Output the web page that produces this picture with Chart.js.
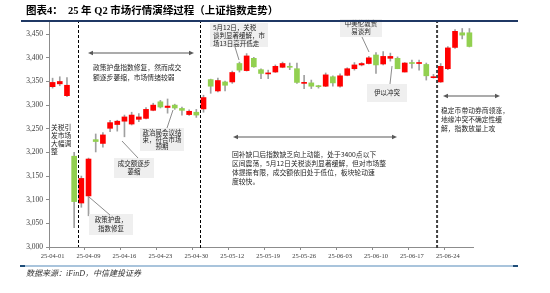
<!DOCTYPE html>
<html><head><meta charset="utf-8">
<script src="https://cdn.jsdelivr.net/npm/chart.js@4.4.1/dist/chart.umd.min.js"></script>
<style>
html,body{margin:0;padding:0;background:#fff;}
#wrap{position:relative;width:550px;height:293px;overflow:hidden;background:#fff;}
canvas{position:absolute;left:0;top:0;}
#title{position:absolute;left:26px;top:4px;font-weight:bold;font-size:10.5px;font-family:"Liberation Serif","Noto Sans CJK SC";color:#000;white-space:nowrap;line-height:13px;}
#tline{position:absolute;left:21px;top:20px;width:497px;height:2px;background:#1F3864;}
#bline{position:absolute;left:20px;top:265px;width:498px;height:2px;background:#A9C4DC;}
#bl1{position:absolute;left:20px;top:265px;width:5px;height:2px;background:#1F4E79;}
#bl2{position:absolute;left:513px;top:265px;width:5px;height:2px;background:#1F4E79;}
#src{position:absolute;left:26px;top:268px;font-style:italic;font-size:8px;font-family:"Liberation Serif","Noto Sans CJK SC";color:#333;white-space:nowrap;line-height:11px;}
</style></head>
<body><div id="wrap"><canvas id="c" width="550" height="293"></canvas>
<div id="title">图表4：&nbsp; 25 年 Q2 市场行情演绎过程（上证指数走势）</div>
<div id="tline"></div>
<div id="bline"></div><div id="bl1"></div><div id="bl2"></div>
<div id="src">数据来源：iFinD，中信建投证券</div></div>
<script>
const dates = ["25-04-01","25-04-02","25-04-03","25-04-07","25-04-08","25-04-09","25-04-10","25-04-11","25-04-14","25-04-15","25-04-16","25-04-17","25-04-18","25-04-21","25-04-22","25-04-23","25-04-24","25-04-25","25-04-28","25-04-29","25-04-30","25-05-06","25-05-07","25-05-08","25-05-09","25-05-12","25-05-13","25-05-14","25-05-15","25-05-16","25-05-19","25-05-20","25-05-21","25-05-22","25-05-23","25-05-26","25-05-27","25-05-28","25-05-29","25-05-30","25-06-03","25-06-04","25-06-05","25-06-06","25-06-09","25-06-10","25-06-11","25-06-12","25-06-13","25-06-16","25-06-17","25-06-18","25-06-19","25-06-20","25-06-23","25-06-24","25-06-25","25-06-26","25-06-27"];
const openV  = [3339,3345,3320,3192,3093,3108,3227,3219,3251,3259,3266,3260,3270,3272,3289,3307,3295,3300,3293,3280,3285,3292,3354,3330,3349,3349,3388,3373,3399,3375,3366,3370,3380,3382,3377,3346,3347,3341,3340,3360,3340,3363,3377,3385,3388,3406,3387,3399,3399,3370,3390,3388,3386,3358,3349,3377,3422,3453,3453];
const highV  = [3357,3360,3358,3200,3150,3188,3239,3242,3268,3268,3279,3285,3282,3295,3304,3310,3313,3302,3296,3290,3291,3321,3355,3357,3351,3372,3391,3409,3401,3377,3374,3385,3391,3389,3389,3363,3353,3342,3368,3362,3366,3379,3390,3390,3403,3411,3413,3410,3402,3390,3395,3395,3389,3365,3388,3424,3460,3462,3462];
const lowV   = [3336,3341,3318,3041,3084,3066,3201,3211,3244,3245,3233,3258,3265,3271,3288,3294,3283,3291,3279,3278,3274,3285,3325,3328,3330,3346,3370,3372,3380,3356,3356,3369,3379,3375,3346,3335,3335,3336,3339,3340,3338,3362,3374,3383,3387,3367,3385,3393,3377,3370,3378,3374,3353,3357,3348,3375,3420,3440,3423];
const closeV = [3348,3350,3342,3096,3145,3186,3223,3237,3263,3266,3275,3279,3275,3291,3300,3296,3298,3294,3289,3287,3279,3316,3340,3352,3342,3369,3374,3404,3381,3367,3368,3382,3388,3380,3348,3348,3340,3339,3364,3347,3362,3377,3385,3388,3400,3385,3403,3403,3377,3389,3388,3390,3362,3360,3382,3421,3456,3448,3424];
const yTickValues = [3000,3050,3100,3150,3200,3250,3300,3350,3400,3450];
const labelEvery = 5;

const wickData = dates.map((d,i)=>[lowV[i],highV[i]]);
const bodyData = dates.map((d,i)=>[Math.min(openV[i],closeV[i]),Math.max(openV[i],closeV[i])]);
const bodyColors = dates.map((d,i)=> closeV[i]>=openV[i] ? '#FF0000' : '#92D050');

const CJK = '"Noto Sans CJK SC"';
function txtLines(ctx, lines, x, y0, lh, align, size){
  ctx.save();
  ctx.fillStyle='#262626';
  ctx.font=(size||6.8)+'px '+CJK;
  ctx.textBaseline='middle';
  ctx.textAlign=align||'left';
  lines.forEach((l,k)=>ctx.fillText(l,x,y0+k*lh));
  ctx.restore();
}
function box(ctx,x,y,w,h){ctx.save();ctx.fillStyle='#EFEFEF';ctx.fillRect(x,y,w,h);ctx.restore();}
function leader(ctx,x1,y1,x2,y2){ctx.save();ctx.strokeStyle='#6F6F6F';ctx.lineWidth=0.8;ctx.beginPath();ctx.moveTo(x1,y1);ctx.lineTo(x2,y2);ctx.stroke();ctx.restore();}
function dblArrow(ctx,x1,x2,y){
  ctx.save();ctx.strokeStyle='#595959';ctx.fillStyle='#595959';ctx.lineWidth=1.2;
  ctx.beginPath();ctx.moveTo(x1+3,y);ctx.lineTo(x2-3,y);ctx.stroke();
  ctx.beginPath();ctx.moveTo(x1,y);ctx.lineTo(x1+5,y-2.3);ctx.lineTo(x1+5,y+2.3);ctx.closePath();ctx.fill();
  ctx.beginPath();ctx.moveTo(x2,y);ctx.lineTo(x2-5,y-2.3);ctx.lineTo(x2-5,y+2.3);ctx.closePath();ctx.fill();
  ctx.restore();
}
function vdash(ctx,x,top,bottom,w,color){
  ctx.save();ctx.strokeStyle=color;ctx.lineWidth=w;ctx.setLineDash([3,2]);
  ctx.beginPath();ctx.moveTo(x,top);ctx.lineTo(x,bottom);ctx.stroke();ctx.restore();
}

const annot = {
  id:'annot',
  afterDraw(chart){
    const ctx=chart.ctx, xs=chart.scales.x, a=chart.chartArea;
    const mid=(i)=>(xs.getPixelForValue(i)+xs.getPixelForValue(i+1))/2;
    vdash(ctx,Math.round(mid(3))+0.5,a.top,a.bottom,1,'#000');
    vdash(ctx,Math.round(mid(20))+0.5,a.top,a.bottom+1,1,'#000');
    vdash(ctx,mid(53),a.top,a.bottom+2,2,'#404040');

    // 1
    txtLines(ctx,['关税引','发市场','大幅调','整'],51,127,8);
    // 2
    box(ctx,89,214,44,21);
    txtLines(ctx,['政策护盘，','指数修复'],111,220,8.5,'center',6.5);
    leader(ctx,89,197,110,215);
    // arrow 1
    dblArrow(ctx,88,194,53);
    txtLines(ctx,['政策护盘指数修复，然而成交','额逐步萎缩，市场情绪较弱'],93,67,10);
    // 4
    box(ctx,114,158,40,20);
    txtLines(ctx,['成交额逐步','萎缩'],134,164,8,'center',6.5);
    leader(ctx,122,141,138,158);
    // 5
    box(ctx,140,128,44,23);
    txtLines(ctx,['政治局会议结','束，符合市场','预期'],162,133,7,'center',6.5);
    leader(ctx,173,110,167,128);
    // 6
    box(ctx,210,23,58,24);
    txtLines(ctx,['5月12日，关税','谈判显著缓解，市','场13日高开低走'],213,27.5,8,'left',6.5);
    leader(ctx,235,47,239,60);
    // 7
    box(ctx,340,19,42,18);
    txtLines(ctx,['中美伦敦贸','易谈判'],361,24,8,'center',6.5);
    leader(ctx,362,37,369,52);
    // 8
    box(ctx,367,84,40,18);
    txtLines(ctx,['伊以冲突'],387,93,8,'center',6.5);
    leader(ctx,390,84,392,66);
    // arrow 2
    dblArrow(ctx,233,397,137);
    txtLines(ctx,['回补缺口后指数缺乏向上动能，处于3400点以下','区间震荡，5月12日关税谈判显著缓解，但对市场整','体提振有限，成交额依旧处于低位，板块轮动速','度较快。'],232,154,9);
    // arrow 3
    dblArrow(ctx,443,500,96);
    txtLines(ctx,['稳定币带动券商领涨，','地缘冲突不确定性缓','解，指数放量上攻'],441,110,9.2);
  }
};

new Chart(document.getElementById('c'),{
  type:'bar',
  data:{labels:dates,datasets:[
    {data:wickData,backgroundColor:'#A0A0A0',barThickness:1,grouped:false,order:1},
    {data:bodyData,backgroundColor:bodyColors,barThickness:5,grouped:false,minBarLength:1,order:0}
  ]},
  options:{
    responsive:false,animation:false,
    layout:{padding:{left:0,right:77,top:20,bottom:30}},
    plugins:{legend:{display:false},tooltip:{enabled:false},title:{display:false}},
    scales:{
      x:{offset:true,
        grid:{drawOnChartArea:false,offset:true,tickLength:3,color:(c)=> (c.index%labelEvery===0)?'#8C8C8C':'rgba(0,0,0,0)'},
        border:{color:'#8C8C8C',width:1},
        ticks:{autoSkip:false,maxRotation:0,minRotation:0,padding:2,color:'#404040',font:{family:'"Liberation Serif"',size:6.5},
          callback:(v,i)=> i%labelEvery===0 ? dates[i] : ''},
        afterFit:(s)=>{s.height=16;}
      },
      y:{min:3000,max:3480,
        afterBuildTicks:(s)=>{s.ticks=yTickValues.map(v=>({value:v}));},
        grid:{drawOnChartArea:false,tickLength:3,color:'#8C8C8C'},
        border:{color:'#8C8C8C',width:1},
        ticks:{padding:3,color:'#404040',font:{family:'"Liberation Serif"',size:7.5},
          callback:(v)=>v.toLocaleString('en-US')},
        afterFit:(s)=>{s.width=49;}
      }
    }
  },
  plugins:[annot]
});
</script>
</body></html>
